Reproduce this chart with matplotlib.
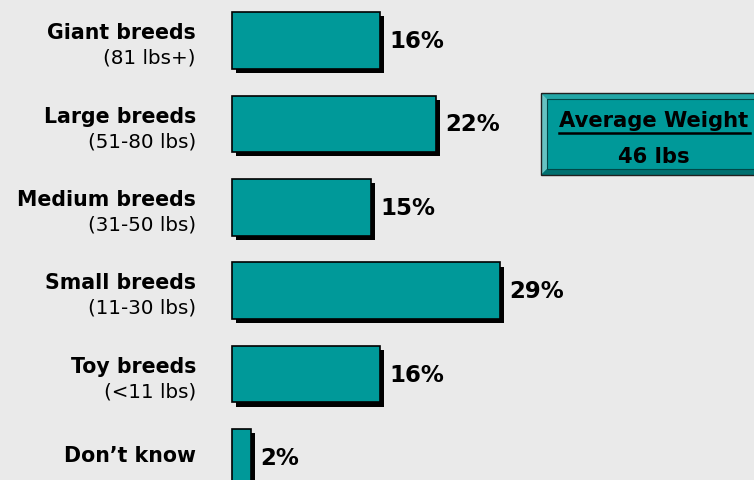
import matplotlib.pyplot as plt
import matplotlib.patheffects as pe
from matplotlib.patches import Polygon, Rectangle

breeds = ["Giant breeds", "Large breeds", "Medium breeds", "Small breeds", "Toy breeds", "Don\u2019t know"]
weights = ["(81 lbs+)", "(51-80 lbs)", "(31-50 lbs)", "(11-30 lbs)", "(<11 lbs)", ""]
shares = [16, 22, 15, 29, 16, 2]
avg_title = "Average Weight"
avg_value = "46 lbs"

bg = "#EAEAEA"
teal = "#009999"

fig = plt.figure(figsize=(7.54, 4.81), dpi=100, facecolor=bg)
ax = fig.add_axes([0, 0, 1, 1], facecolor=bg)
ax.set_xlim(-25.08, 56.43)
ax.set_ylim(5.27, -0.498)
ax.axis("off")

pos = list(range(len(breeds)))
bars = ax.barh(pos, shares, height=0.68, color=teal, edgecolor="black", linewidth=1.2)
for b in bars:
    b.set_path_effects([pe.SimplePatchShadow(offset=(3, -3), shadow_rgbFace="black", alpha=1.0), pe.Normal()])

for i, (name, sub, v) in enumerate(zip(breeds, weights, shares)):
    if sub:
        ax.text(-3.9, i - 0.1, name, ha="right", va="center", fontsize=14.8, fontweight="bold")
        ax.text(-3.9, i + 0.2, sub, ha="right", va="center", fontsize=14.3)
    else:
        ax.text(-3.9, i - 0.03, name, ha="right", va="center", fontsize=14.8, fontweight="bold")
    ax.text(v + 1.0, i, f"{v}%", ha="left", va="center", fontsize=16.5, fontweight="bold")

# bevelled summary box, drawn in pixel space
ov = fig.add_axes([0, 0, 1, 1], facecolor="none")
ov.set_xlim(0, 754)
ov.set_ylim(481, 0)
ov.axis("off")
x0, x1, y0, y1, bw = 541, 767, 94, 176, 6
ov.add_patch(Rectangle((x0, y0), x1 - x0, y1 - y0, facecolor=teal, edgecolor="none"))
ov.add_patch(Polygon([(x0, y0), (x1, y0), (x1 - bw, y0 + bw), (x0 + bw, y0 + bw)], facecolor="#22A6A6", edgecolor="none"))
ov.add_patch(Polygon([(x0, y0), (x0 + bw, y0 + bw), (x0 + bw, y1 - bw), (x0, y1)], facecolor="#66C2C2", edgecolor="none"))
ov.add_patch(Polygon([(x0, y1), (x0 + bw, y1 - bw), (x1 - bw, y1 - bw), (x1, y1)], facecolor="#007070", edgecolor="none"))
ov.add_patch(Rectangle((x0 + bw, y0 + bw), x1 - x0 - 2 * bw, y1 - y0 - 2 * bw, facecolor="none", edgecolor="#004848", linewidth=0.8))
ov.add_patch(Rectangle((x0, y0), x1 - x0, y1 - y0, facecolor="none", edgecolor="#202020", linewidth=1.0))
ov.text(654, 121, avg_title, ha="center", va="center", fontsize=15.2, fontweight="bold")
ov.plot([559, 750], [134, 134], color="black", linewidth=1.8)
ov.text(654, 157, avg_value, ha="center", va="center", fontsize=15.2, fontweight="bold")

fig.savefig("out.png", dpi=100, facecolor=bg)
